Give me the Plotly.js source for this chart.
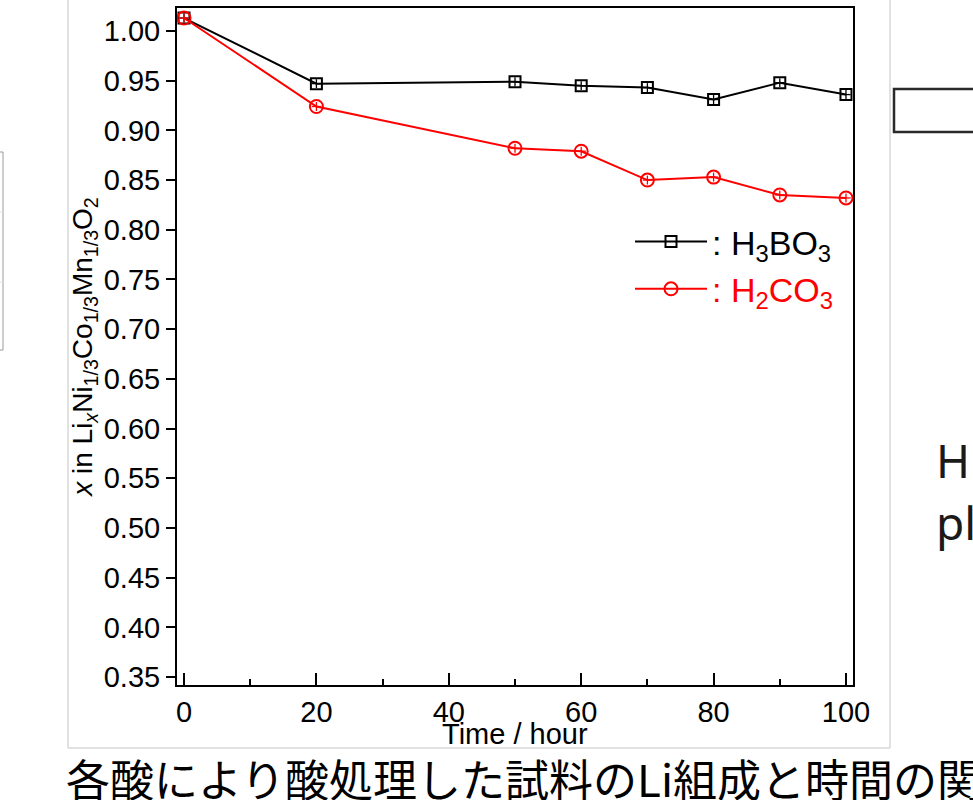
<!DOCTYPE html>
<html>
<head>
<meta charset="utf-8">
<script src="https://cdn.plot.ly/plotly-3.0.1.min.js"></script>
<style>html,body{margin:0;padding:0;background:#fff;}#chart{width:973px;height:800px;}</style>
</head>
<body>
<div id="chart"></div>
<script>
// Data
const timeHours = [0, 20, 50, 60, 70, 80, 90, 100];
const xH3BO3 = [1.013, 0.947, 0.949, 0.945, 0.943, 0.931, 0.948, 0.936];
const xH2CO3 = [1.013, 0.924, 0.882, 0.879, 0.850, 0.853, 0.835, 0.832];
const yTickVals = [0.35,0.40,0.45,0.50,0.55,0.60,0.65,0.70,0.75,0.80,0.85,0.90,0.95,1.00];
const yTickText = ['0.35','0.40','0.45','0.50','0.55','0.60','0.65','0.70','0.75','0.80','0.85','0.90','0.95','1.00'];
const xTickVals = [0, 20, 40, 60, 80, 100];
const xTickText = ['0', '20', '40', '60', '80', '100'];
const seriesNames = [': H<sub>3</sub>BO<sub>3</sub>', '<span style="color:#ff0000">: H<sub>2</sub>CO<sub>3</sub></span>'];
const xTitleText = 'Time / hour';
const yTitleText = '<i>x</i> in Li<sub><i>x</i></sub>Ni<sub>1/3</sub>Co<sub>1/3</sub>Mn<sub>1/3</sub>O<sub>2</sub>';
const captionText = '各酸により酸処理した試料のLi組成と時間の関係';

// plot-area geometry in px
const L = 177, R = 853, T = 8, B = 685, W = 973, H = 800;
const px = v => (v - L) / (R - L);
const py = v => (B - v) / (B - T);
const FONT = 'Liberation Sans, Arial, sans-serif';

const traces = [
  {
    x: timeHours, y: xH3BO3, name: seriesNames[0], type: 'scatter', mode: 'lines+markers',
    line: {color: '#000000', width: 2},
    marker: {symbol: 'square-open', size: 11, color: '#000000', line: {width: 2}},
    error_y: {type: 'constant', value: 0.0045, width: 0, thickness: 1.3, color: '#000'},
    error_x: {type: 'constant', value: 0.7, width: 0, thickness: 1.3, color: '#000'}
  },
  {
    x: timeHours, y: xH2CO3, name: seriesNames[1], type: 'scatter', mode: 'lines+markers',
    line: {color: '#ff0000', width: 2},
    marker: {symbol: 'circle-open', size: 13, color: '#ff0000', line: {width: 2}},
    error_y: {type: 'constant', value: 0.0045, width: 0, thickness: 1.3, color: '#ff0000'},
    error_x: {type: 'constant', value: 0.7, width: 0, thickness: 1.3, color: '#ff0000'}
  }
];

const layout = {
  width: W, height: H,
  margin: {l: L, r: W - R, t: T, b: H - B, pad: 0},
  paper_bgcolor: '#ffffff', plot_bgcolor: '#ffffff',
  showlegend: true,
  legend: {
    x: px(630), y: py(213), xanchor: 'left', yanchor: 'top',
    bgcolor: 'rgba(0,0,0,0)', borderwidth: 0,
    font: {family: FONT, size: 34, color: '#000'},
    itemwidth: 72, tracegroupgap: 0
  },
  xaxis: {
    range: [-1.06, 101.06], showgrid: false, zeroline: false,
    showline: true, linecolor: '#000', linewidth: 2, mirror: true,
    tickmode: 'array', tickvals: xTickVals, ticktext: xTickText,
    ticks: 'inside', ticklen: 12, tickwidth: 1.5, tickcolor: '#000',
    minor: {dtick: 10, tick0: 0, ticks: 'inside', ticklen: 6, tickwidth: 1.5, tickcolor: '#000', showgrid: false},
    tickfont: {family: FONT, size: 29, color: '#000'},
    automargin: false
  },
  yaxis: {
    range: [0.342, 1.0231], showgrid: false, zeroline: false,
    showline: true, linecolor: '#000', linewidth: 2, mirror: true,
    tickmode: 'array', tickvals: yTickVals, ticktext: yTickText,
    ticks: 'outside', ticklen: 9, tickwidth: 1.5, tickcolor: '#000',
    tickfont: {family: FONT, size: 29, color: '#000'},
    automargin: false,
    title: {text: yTitleText, font: {family: FONT, size: 28, color: '#000'}}
  },
  shapes: [
    {type: 'rect', xref: 'paper', yref: 'paper', x0: px(68), x1: px(890), y0: py(748), y1: py(-5), line: {color: '#c4c4c4', width: 1}, layer: 'below'},
    {type: 'rect', xref: 'paper', yref: 'paper', x0: px(-10), x1: px(3), y0: py(350), y1: py(152), line: {color: '#9a9a9a', width: 1}},
    {type: 'line', xref: 'paper', yref: 'paper', x0: px(-10), x1: px(3), y0: py(212), y1: py(212), line: {color: '#e0e0e0', width: 1}},
    {type: 'line', xref: 'paper', yref: 'paper', x0: px(-10), x1: px(3), y0: py(282), y1: py(282), line: {color: '#e0e0e0', width: 1}},
    {type: 'rect', xref: 'paper', yref: 'paper', x0: px(894), x1: px(990), y0: py(132), y1: py(89), line: {color: '#2a2a2a', width: 2.5}}
  ],
  annotations: [
    {xref: 'paper', yref: 'paper', x: px(515), y: py(734), xanchor: 'center', yanchor: 'middle', showarrow: false,
     text: xTitleText, font: {family: FONT, size: 29, color: '#000'}},
    {xref: 'paper', yref: 'paper', x: px(934), y: py(460), xanchor: 'left', yanchor: 'middle', showarrow: false,
     text: 'H', font: {family: 'Noto Sans, DejaVu Sans, sans-serif', size: 46, color: '#1a1a1a'}},
    {xref: 'paper', yref: 'paper', x: px(934), y: py(522), xanchor: 'left', yanchor: 'middle', showarrow: false,
     text: 'pl', font: {family: 'Noto Sans, DejaVu Sans, sans-serif', size: 46, color: '#1a1a1a'}},
    {xref: 'paper', yref: 'paper', x: px(64), y: py(778), xanchor: 'left', yanchor: 'middle', showarrow: false,
     text: captionText, font: {family: 'Noto Sans CJK JP, sans-serif', size: 44, color: '#000'}}
  ]
};

Plotly.newPlot('chart', traces, layout, {displayModeBar: false, responsive: false});
</script>
</body>
</html>
